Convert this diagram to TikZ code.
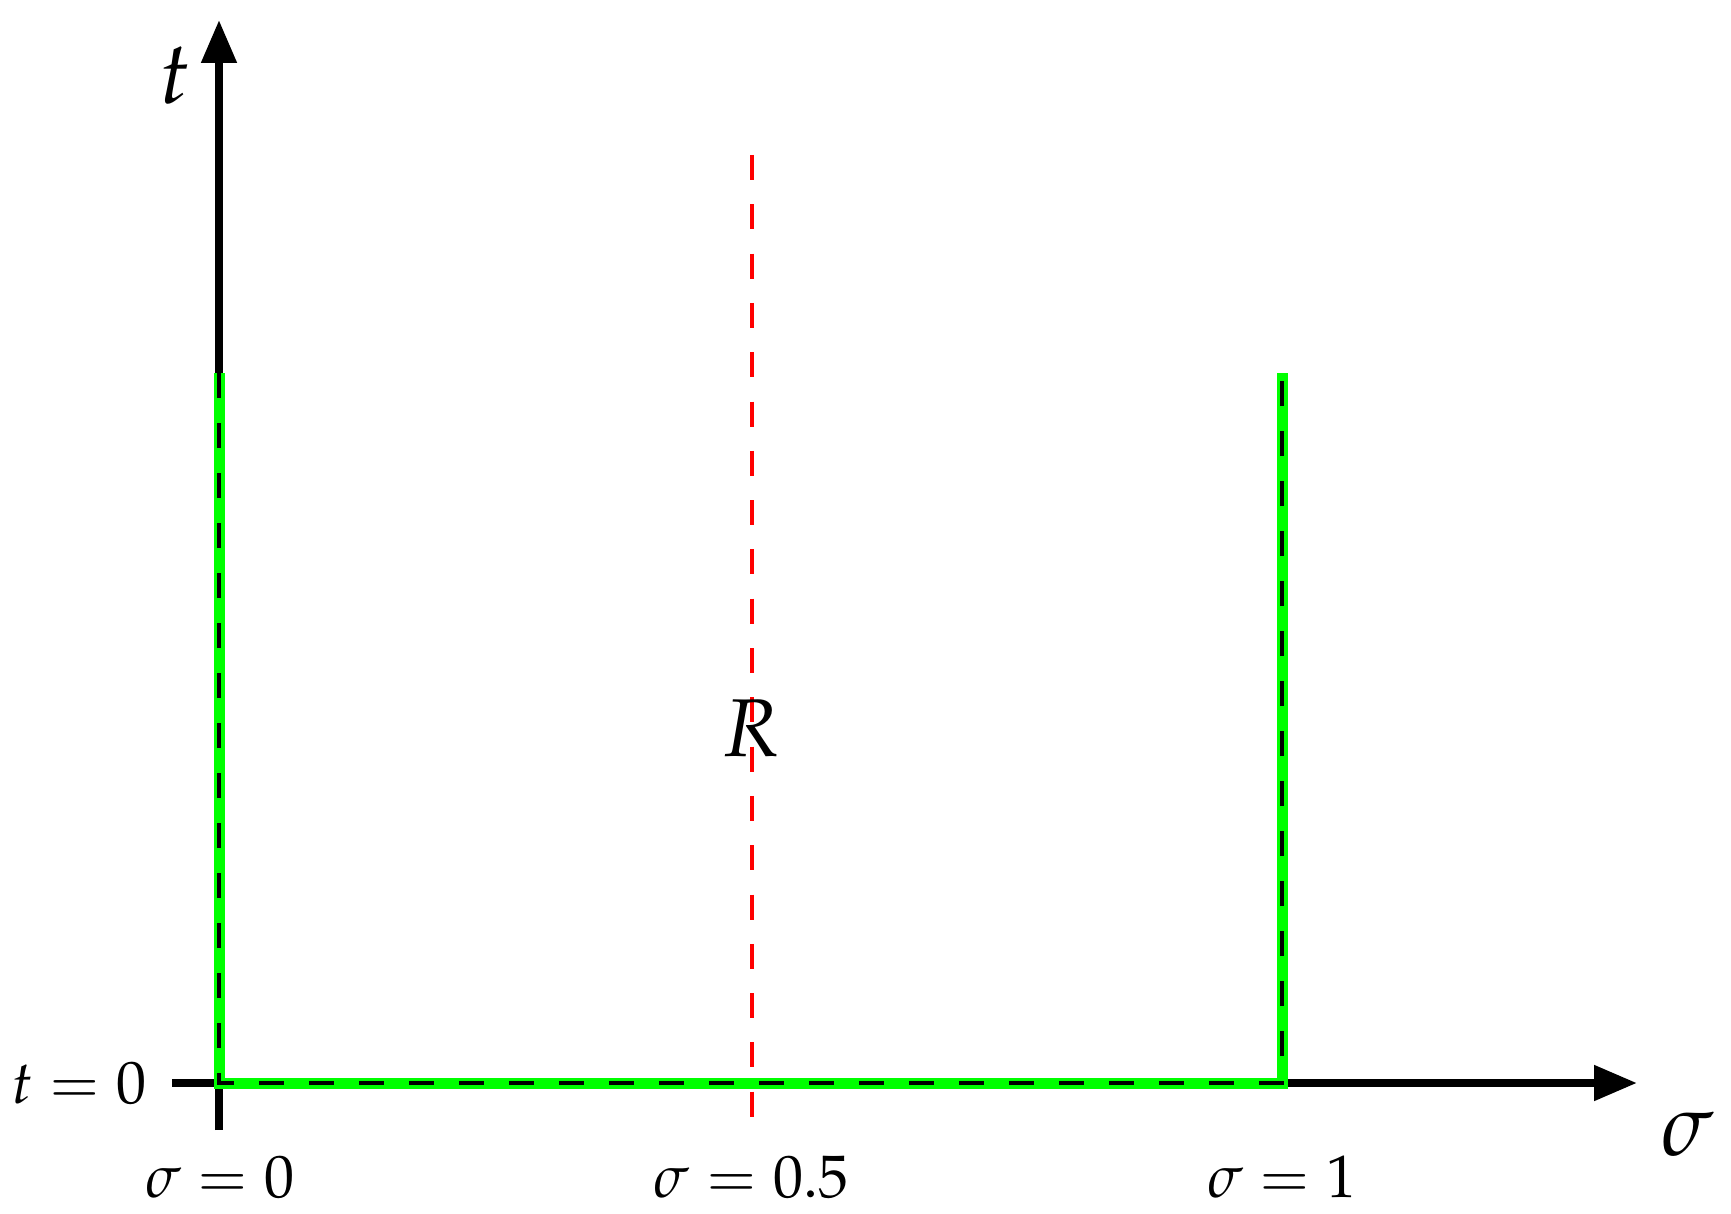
\documentclass[tikz,border=0pt]{standalone}
\usepackage{mathpazo}
\usetikzlibrary{arrows.meta}
\definecolor{lgreen}{RGB}{0,255,0}
\definecolor{lred}{RGB}{255,0,0}
\begin{document}
\begin{tikzpicture}[x=1pt,y=-1pt,
  axis/.style={line width=8pt,draw=black},
  axisarrow/.style={axis,-{Triangle[length=43pt,width=34pt]}},
  lab/.style={inner sep=0pt,anchor=base,font=\fontsize{60}{70}\selectfont},
  biglab/.style={inner sep=0pt,anchor=base,font=\fontsize{88}{100}\selectfont},
  rlab/.style={inner sep=0pt,anchor=base,font=\fontsize{82}{96}\selectfont},
  region/.style={line width=11pt,draw=lgreen},
  boundary/.style={line width=4pt,draw=black,dash pattern=on 25pt off 25pt},
  midline/.style={line width=4pt,draw=lred,dash pattern=on 25pt off 24.3pt}]
\useasboundingbox (0,0) rectangle (1731,1214);
% coordinates
\coordinate (ybot) at (219,1130);
\coordinate (ytop) at (219,20);
\coordinate (xleft) at (172,1083);
\coordinate (xright) at (1637,1083);
\coordinate (lt) at (219,373);
\coordinate (lb) at (219,1083);
\coordinate (rb) at (1282,1083);
\coordinate (rt) at (1282,373);
\coordinate (mtop) at (752,155);
\coordinate (mbot) at (752,1130);
% axes
\draw[axisarrow] (ybot) -- (ytop);
\draw[axisarrow] (xleft) -- (xright);
% middle line
\draw[midline] (mtop) -- (mbot);
% region boundary
\draw[region] (lt) -- (lb) -- (rb) -- (rt);
\draw[boundary] (lt) -- (lb) -- (rb) -- (rt);
% labels
\node[biglab] (tl) at (175,104) {$t$};
\node[biglab] (sl) at (1687,1155) {$\sigma$};
\node[lab] (t0) at (79,1103) {$t=0$};
\node[lab] (s0) at (220,1197) {$\sigma=0$};
\node[lab] (s05) at (751,1197) {$\sigma=0.5$};
\node[lab] (s1) at (1282,1197) {$\sigma=1$};
\node[rlab] (R) at (751,756) {$R$};
\end{tikzpicture}
\end{document}
